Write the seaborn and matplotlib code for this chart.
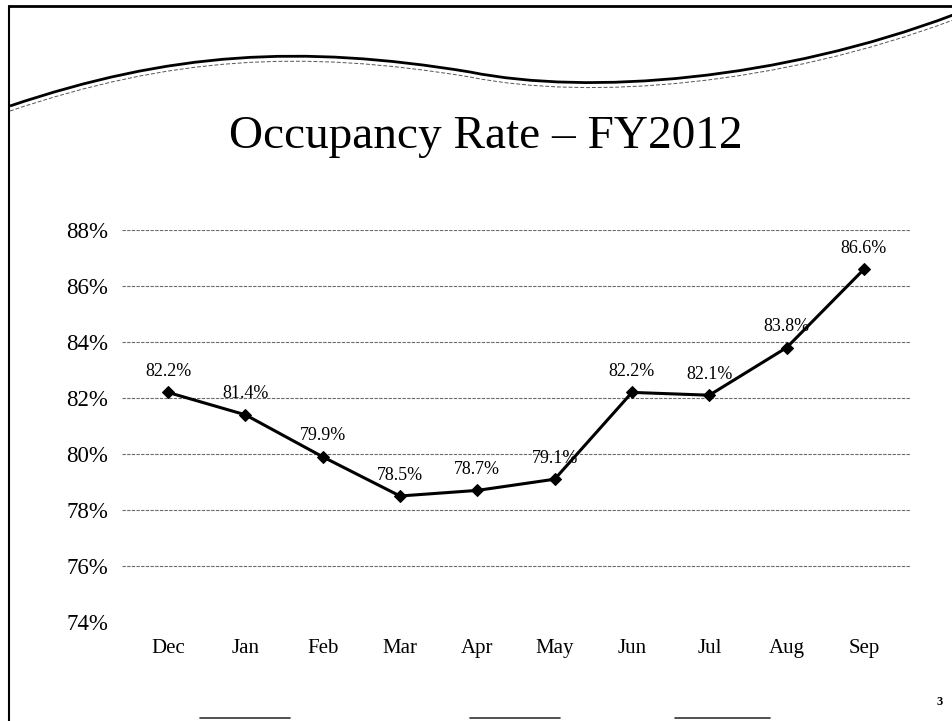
import numpy as np
import pandas as pd
import matplotlib
matplotlib.use('Agg')
import matplotlib.pyplot as plt
from matplotlib.path import Path
from matplotlib.patches import PathPatch
import seaborn as sns

# Data
MONTHS = ['Dec', 'Jan', 'Feb', 'Mar', 'Apr', 'May', 'Jun', 'Jul', 'Aug', 'Sep']
OCCUPANCY = [82.2, 81.4, 79.9, 78.5, 78.7, 79.1, 82.2, 82.1, 83.8, 86.6]
Y_TICKS = [74, 76, 78, 80, 82, 84, 86, 88]
TITLE = 'Occupancy Rate \u2013 FY2012'

sns.set_style('white')
plt.rcParams['font.family'] = ['Liberation Serif', 'DejaVu Serif']
plt.rcParams.update({'text.color': 'black', 'xtick.color': 'black',
                     'ytick.color': 'black'})

W, H = 953, 721
fig = plt.figure(figsize=(W / 100, H / 100), dpi=100)
ax = fig.add_axes([122 / W, 1 - 622 / H, (910 - 122) / W, (622 - 230) / H])

df = pd.DataFrame({'month': MONTHS, 'rate': OCCUPANCY})

# gridlines (bottom one is practically invisible in the scan)
for t in Y_TICKS[1:]:
    ax.axhline(t, color='#6a6a6a', lw=0.8, ls=(0, (3, 1.2)), zorder=0)

sns.lineplot(data=df, x='month', y='rate', ax=ax, color='black', lw=2.2,
             marker='D', markersize=6.5, markeredgecolor='black', sort=False)

for i, v in enumerate(OCCUPANCY):
    ax.annotate(f'{v:.1f}%', (i, v), xytext=(0, 9), textcoords='offset points',
                ha='center', va='bottom', fontsize=13, color='black')

ax.set_xlim(-0.595, 9.595)
ax.set_ylim(74, 88)
ax.set_yticks(Y_TICKS)
ax.set_yticklabels([f'{t}%' for t in Y_TICKS], fontsize=16.5)
ax.tick_params(axis='y', length=0, pad=10, labelcolor='black')
ax.tick_params(axis='x', length=0, pad=12, labelsize=15, labelcolor='black')
ax.set_xlabel('')
ax.set_ylabel('')
for s in ax.spines.values():
    s.set_visible(False)

# title
fig.text(486 / W, 1 - 137 / H, TITLE, ha='center', va='center', fontsize=34,
         color='black')

# decorative slide wave (pixel coords -> figure fraction)
def px(x, y):
    return (x / W, 1 - y / H)

wave = [(10, 106), (170, 52), (300, 44), (470, 72),
        (590, 96), (780, 80), (953, 15)]
codes = [Path.MOVETO] + [Path.CURVE4] * 6
fig.add_artist(PathPatch(Path([px(*p) for p in wave], codes), fill=False,
                         lw=2.0, edgecolor='black', transform=fig.transFigure))
wave2 = [(x, y + 5) for x, y in wave]
fig.add_artist(PathPatch(Path([px(*p) for p in wave2], codes), fill=False,
                         lw=0.7, edgecolor='#555555', ls=(0, (4, 2)),
                         transform=fig.transFigure))

# slide border
fig.add_artist(plt.Line2D([9 / W, 9 / W], [0, 1 - 6 / H], color='black', lw=1.5,
                          transform=fig.transFigure))
fig.add_artist(plt.Line2D([9 / W, 1], [1 - 6 / H, 1 - 6 / H], color='black', lw=2,
                          transform=fig.transFigure))
for x0, x1 in [(200, 290), (470, 560), (675, 770)]:
    fig.add_artist(plt.Line2D([x0 / W, x1 / W], [1 - 718 / H, 1 - 718 / H],
                              color='#333333', lw=1.2, transform=fig.transFigure))

# page number
fig.text(940 / W, 1 - 702 / H, '3', ha='center', va='center', fontsize=9,
         fontweight='bold', color='black')

fig.savefig('out.png', dpi=100)
